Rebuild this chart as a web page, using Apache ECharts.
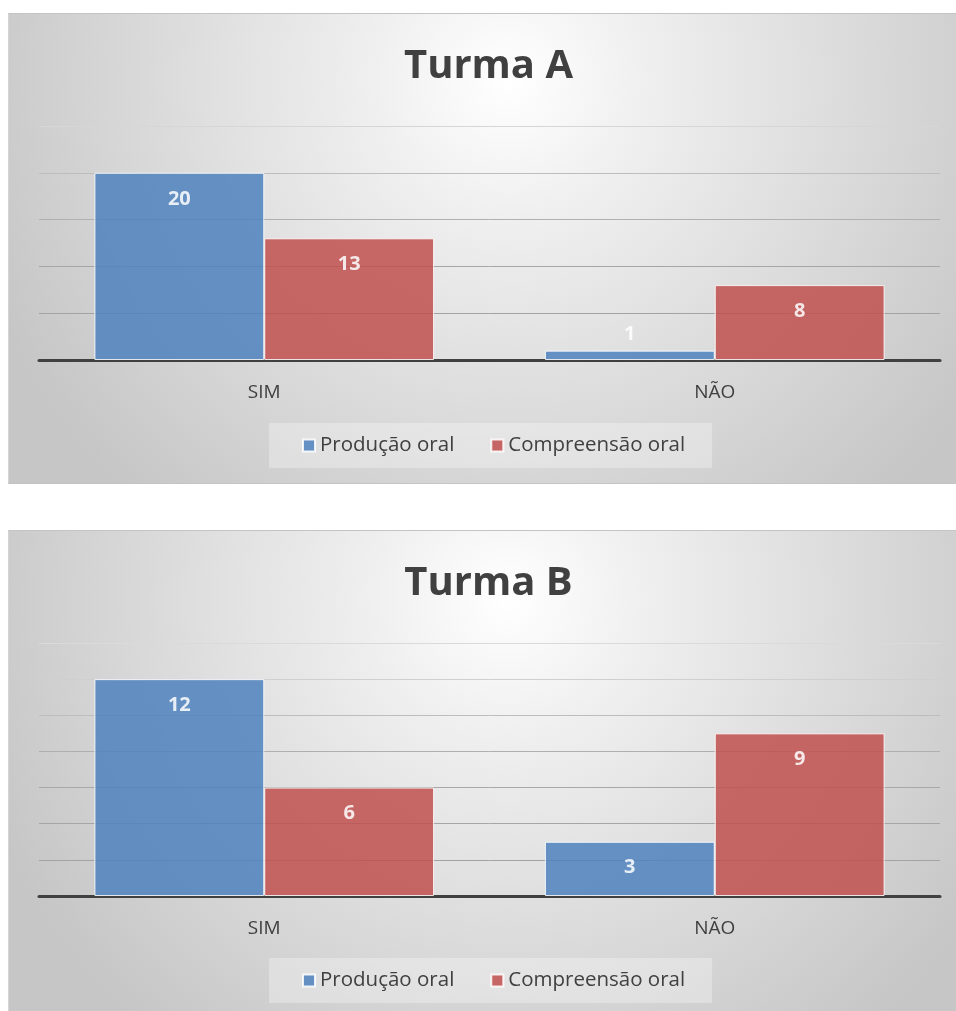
<!DOCTYPE html>
<html>
<head>
    <meta charset="utf-8" />
    <title>Turma A / Turma B</title>
    <script src="https://cdn.jsdelivr.net/npm/echarts@6/dist/echarts.min.js"></script>
    <style>
        html, body {
            margin: 0;
            padding: 0;
            background: #ffffff;
            overflow: hidden;
        }
        /* painel com fundo em degradê radial, como no Excel */
        .painel {
            position: absolute;
            left: 8px;
            width: 960px;
            border-top: 1px solid #c4c4c4;
            border-left: 1px solid #d4d4d4;
            box-sizing: border-box;
            background: radial-gradient(circle at 52% 14%, #ffffff 0px, #f0f0f0 130px, #c6c6c6 560px);
        }
    </style>
</head>
<body>
<div id="chartA" class="painel" style="top: 13px; height: 471px; border-bottom: 1px solid #c4c4c4;"></div>
<div id="chartB" class="painel" style="top: 530px; height: 481px;"></div>

<script type="text/javascript">
    // dados
    var categorias = ['SIM', 'NÃO'];
    var nomesSeries = ['Produção oral', 'Compreensão oral'];
    var turmaA_producao = [20, 1];
    var turmaA_compreensao = [13, 8];
    var turmaB_producao = [12, 3];
    var turmaB_compreensao = [6, 9];

    var corTexto = '#404040';
    var fonte = '"Open Sans", "Noto Sans", sans-serif';

    // rótulo dentro da barra; se a barra for muito baixa, vai para cima
    function dadosComRotulo(valores, max) {
        return valores.map(function (v) {
            if (v / max < 0.12) {
                return { value: v, label: { position: 'top', distance: 6 } };
            }
            return v;
        });
    }

    function serie(nome, cor, valores, max) {
        return {
            name: nome,
            type: 'bar',
            barGap: '0%',
            barCategoryGap: '24.6%',
            itemStyle: {
                color: cor,
                opacity: 0.85,
                borderColor: '#ffffff',
                borderWidth: 1
            },
            label: {
                show: true,
                position: 'insideTop',
                distance: 16,
                color: '#ffffff',
                fontSize: 20,
                fontWeight: 'bold',
                fontFamily: fonte
            },
            data: dadosComRotulo(valores, max)
        };
    }

    function desenha(id, titulo, producao, compreensao, max, intervalo, gradeBaixo, legendaTopo, coresGrade) {
        var myChart = echarts.init(document.getElementById(id), null, { renderer: 'canvas' });
        var option = {
            backgroundColor: 'transparent',
            animation: false,
            title: {
                text: titulo,
                left: 'center',
                top: 33,
                padding: 0,
                textStyle: {
                    color: corTexto,
                    fontSize: 40,
                    fontWeight: 'bold',
                    fontFamily: fonte
                }
            },
            legend: {
                data: nomesSeries,
                left: 260,
                top: legendaTopo,
                icon: 'rect',
                itemWidth: 12,
                itemHeight: 12,
                itemGap: 36,
                padding: [12, 27, 12, 33],
                backgroundColor: 'rgba(255,255,255,0.3)',
                textStyle: {
                    color: corTexto,
                    fontSize: 20.5,
                    fontFamily: fonte
                }
            },
            grid: {
                left: 30,
                right: 28,
                top: 112,
                bottom: gradeBaixo,
                containLabel: false
            },
            xAxis: {
                type: 'category',
                data: categorias,
                axisTick: { show: false },
                axisLine: { lineStyle: { color: corTexto, width: 3 } },
                axisLabel: {
                    margin: 23,
                    color: corTexto,
                    fontSize: 19,
                    fontFamily: fonte
                }
            },
            yAxis: {
                type: 'value',
                min: 0,
                max: max,
                interval: intervalo,
                axisLabel: { show: false },
                axisLine: { show: false },
                axisTick: { show: false },
                splitLine: { lineStyle: { color: coresGrade, width: 1 } }
            },
            series: [
                serie(nomesSeries[0], '#4F81BD', producao, max),
                serie(nomesSeries[1], '#C0504D', compreensao, max)
            ]
        };
        myChart.setOption(option);
    }

    desenha('chartA', 'Turma A', turmaA_producao, turmaA_compreensao, 25, 5, 123, 409,
        ['#9a9a9a', '#a3a3a3', '#a6a6a6', '#b0b0b0', '#bdbdbd', '#d6d6d6']);
    desenha('chartB', 'Turma B', turmaB_producao, turmaB_compreensao, 14, 2, 115, 427,
        ['#9a9a9a', '#a3a3a3', '#a6a6a6', '#a8a8a8', '#afafaf', '#bdbdbd', '#cfcfcf', '#dadada']);
</script>
</body>
</html>
